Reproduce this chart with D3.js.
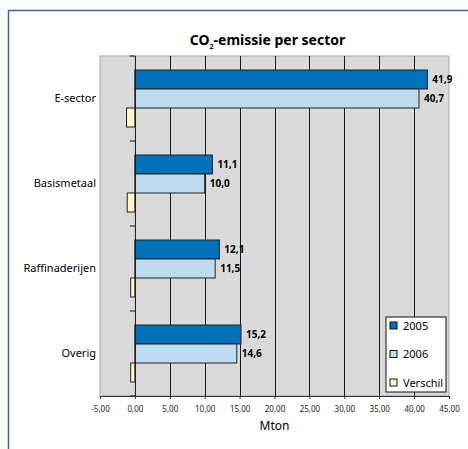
<!DOCTYPE html>
<html>
<head>
<meta charset="utf-8">
<script src="https://cdn.jsdelivr.net/npm/d3@7"></script>
<style>
  body { margin: 0; background: #fff; }
  text { font-family: "Noto Sans", "Open Sans", sans-serif; }
</style>
</head>
<body>
<div id="chart"></div>
<script>
// data
const sectors = ["E-sector", "Basismetaal", "Raffinaderijen", "Overig"];
const seriesNames = ["2005", "2006", "Verschil"];
const values2005 = [41.9, 11.1, 12.1, 15.2];
const values2006 = [40.7, 10.0, 11.5, 14.6];
const valuesVerschil = [-1.2, -1.1, -0.6, -0.6];
const xTicks = [-5, 0, 5, 10, 15, 20, 25, 30, 35, 40, 45];

const colors = { "2005": "#0071b9", "2006": "#bedcef", "Verschil": "#fff8cc" };

const W = 468, H = 449;
const plot = { left: 100, right: 449, top: 56, bottom: 396 };

const svg = d3.select("#chart")
    .append("svg")
    .attr("width", W)
    .attr("height", H);

// outer frame (top + left blue line)
svg.append("path")
    .attr("d", `M8.5,${H} L8.5,10.5 L${W},10.5`)
    .attr("fill", "none")
    .attr("stroke", "#3a66a8")
    .attr("stroke-width", 1.5);

const rows = sectors.map((s, i) => ({
    sector: s,
    bars: [
        { key: "2005", value: values2005[i] },
        { key: "2006", value: values2006[i] },
        { key: "Verschil", value: valuesVerschil[i] }
    ]
}));

const x = d3.scaleLinear().domain([-5, 45]).range([plot.left, plot.right]);
const y0 = d3.scaleBand().domain(sectors).range([plot.top, plot.bottom]);
const y1 = d3.scaleBand().domain(seriesNames).range([14, y0.bandwidth() - 14]);

// plot background
svg.append("rect")
    .attr("x", plot.left)
    .attr("y", plot.top)
    .attr("width", plot.right - plot.left)
    .attr("height", plot.bottom - plot.top)
    .attr("fill", "#d9d9d9")
    .attr("stroke", "#a6a6a6")
    .attr("stroke-width", 1);

// vertical gridlines
svg.selectAll(".grid")
    .data(xTicks.filter(d => d > 0 && d < 45))
    .enter()
    .append("line")
    .attr("class", "grid")
    .attr("x1", d => Math.round(x(d)) + 0.5)
    .attr("x2", d => Math.round(x(d)) + 0.5)
    .attr("y1", plot.top)
    .attr("y2", plot.bottom)
    .attr("stroke", "#1a1a1a")
    .attr("stroke-width", 1);

// bars
const groups = svg.selectAll(".row")
    .data(rows)
    .enter()
    .append("g")
    .attr("class", "row")
    .attr("transform", d => `translate(0,${y0(d.sector)})`);

groups.selectAll("rect")
    .data(d => d.bars)
    .enter()
    .append("rect")
    .attr("x", d => x(Math.min(0, d.value)))
    .attr("y", d => y1(d.key))
    .attr("width", d => Math.abs(x(d.value) - x(0)))
    .attr("height", y1.bandwidth())
    .attr("fill", d => colors[d.key])
    .attr("stroke", "#222")
    .attr("stroke-width", 1);

// value labels (only the two years)
groups.selectAll(".val")
    .data(d => d.bars.filter(b => b.key !== "Verschil"))
    .enter()
    .append("text")
    .attr("class", "val")
    .attr("x", d => x(d.value) + 5)
    .attr("y", d => y1(d.key) + y1.bandwidth() / 2)
    .attr("dy", "0.35em")
    .style("font-size", "10px")
    .style("font-weight", "bold")
    .text(d => d.value.toFixed(1).replace(".", ","));

// zero axis with category ticks
svg.append("line")
    .attr("x1", x(0) + 0.5).attr("x2", x(0) + 0.5)
    .attr("y1", plot.top).attr("y2", plot.bottom)
    .attr("stroke", "#111");

svg.selectAll(".ytick")
    .data(d3.range(sectors.length + 1))
    .enter()
    .append("line")
    .attr("x1", x(0) - 5).attr("x2", x(0))
    .attr("y1", i => plot.top + i * y0.bandwidth())
    .attr("y2", i => plot.top + i * y0.bandwidth())
    .attr("stroke", "#111");

// category labels
svg.selectAll(".cat")
    .data(sectors)
    .enter()
    .append("text")
    .attr("x", 96)
    .attr("y", d => y0(d) + y0.bandwidth() / 2)
    .attr("dy", "0.35em")
    .attr("text-anchor", "end")
    .style("font-size", "11px")
    .text(d => d);

// x axis
const xAxis = d3.axisBottom(x)
    .tickValues(xTicks)
    .tickSize(3)
    .tickFormat(d => d3.format(".2f")(d).replace(".", ",").replace("\u2212", "-"));

const gx = svg.append("g")
    .attr("transform", `translate(0,${plot.bottom})`)
    .call(xAxis);
gx.select(".domain").attr("stroke", "#333");
gx.selectAll(".tick line").attr("stroke", "#333");
gx.selectAll(".tick text")
    .attr("y", 10)
    .style("font-family", "'Noto Sans', sans-serif")
    .style("font-size", "8px")
    .attr("fill", "#222");

svg.append("text")
    .attr("x", (plot.left + plot.right) / 2)
    .attr("y", 430)
    .attr("text-anchor", "middle")
    .style("font-size", "12px")
    .text("Mton");

// title
const title = svg.append("text")
    .attr("x", (plot.left + plot.right) / 2 - 7)
    .attr("y", 45)
    .attr("text-anchor", "middle")
    .style("font-size", "14px")
    .style("font-weight", "bold");
title.append("tspan").text("CO");
title.append("tspan").attr("dy", 4).style("font-size", "7px").text("2");
title.append("tspan").attr("dy", -4).text("-emissie per sector");

// legend
const legend = svg.append("g").attr("transform", "translate(386,317)");
legend.append("rect")
    .attr("width", 60).attr("height", 75)
    .attr("fill", "#fff")
    .attr("stroke", "#111");

const items = legend.selectAll(".item")
    .data(seriesNames)
    .enter()
    .append("g")
    .attr("transform", (d, i) => `translate(4,${9 + i * 28.5})`);

items.append("rect")
    .attr("width", 7).attr("height", 7)
    .attr("y", -4)
    .attr("fill", d => colors[d])
    .attr("stroke", "#111");

items.append("text")
    .attr("x", 13)
    .attr("dy", "0.35em")
    .style("font-size", "11px")
    .text(d => d);
</script>
</body>
</html>
